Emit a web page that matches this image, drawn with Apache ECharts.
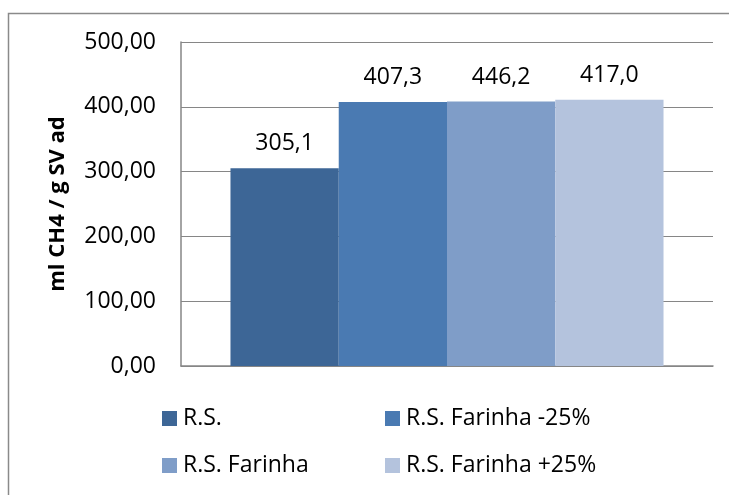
<!DOCTYPE html>
<html>
<head>
<meta charset="utf-8">
<script src="https://cdn.jsdelivr.net/npm/echarts@6/dist/echarts.min.js"></script>
<style>
  html, body { margin: 0; padding: 0; background: #fff; }
  #main { width: 729px; height: 495px; }
</style>
</head>
<body>
<div id="main"></div>
<script>
// dados
var seriesNames = ['R.S.', 'R.S. Farinha -25%', 'R.S. Farinha', 'R.S. Farinha +25%'];
var barValues = [305.1, 407.3, 408, 411];
var barLabels = ['305,1', '407,3', '446,2', '417,0'];
var barColors = ['#3d6696', '#4a7ab2', '#7f9dc8', '#b4c3dd'];
var yTicks = ['0,00', '100,00', '200,00', '300,00', '400,00', '500,00'];
var yName = 'ml CH4 / g SV ad';

var font = '"Open Sans", sans-serif';

;(function() {
  var myChart = echarts.init(document.getElementById('main'));

  var series = seriesNames.map(function(name, i) {
    return {
      name: name,
      type: 'bar',
      barGap: 0,
      barCategoryGap: '18.6%',
      itemStyle: { color: barColors[i] },
      label: {
        show: true,
        position: 'top',
        distance: 13,
        color: '#000',
        fontFamily: font,
        fontSize: 23,
        formatter: function() { return barLabels[i]; }
      },
      data: [barValues[i]]
    };
  });

  // legenda em duas colunas
  var legendPos = [[162, 407], [385, 407], [162, 454], [385, 454]];
  var legends = seriesNames.map(function(name, i) {
    return {
      data: [name],
      left: legendPos[i][0],
      top: legendPos[i][1],
      itemWidth: 15,
      itemHeight: 15,
      icon: 'rect',
      selectedMode: false,
      padding: 0,
      textStyle: { fontFamily: font, fontSize: 23, color: '#000', padding: [0, 0, 0, 1] }
    };
  });

  var option = {
    animation: false,
    backgroundColor: '#fff',
    // moldura do gráfico (só lados esquerdo e superior ficam visíveis)
    graphic: [{
      type: 'polyline',
      shape: { points: [[8.5, 900], [8.5, 13.5], [1200, 13.5]] },
      style: { fill: null, stroke: '#8a8a8a', lineWidth: 1.5 },
      silent: true
    }],
    legend: legends,
    grid: { left: 181, right: 16, top: 42, bottom: 129 },
    xAxis: {
      type: 'category',
      data: [''],
      axisLine: { lineStyle: { color: '#868686', width: 1.5 } },
      axisTick: { show: false },
      axisLabel: { show: false }
    },
    yAxis: {
      type: 'value',
      min: 0,
      max: 500,
      interval: 100,
      name: yName,
      nameLocation: 'middle',
      nameGap: 112,
      nameTextStyle: { fontFamily: font, fontSize: 22, fontWeight: 'bold', color: '#000' },
      axisLine: { show: true, lineStyle: { color: '#868686', width: 1.5 } },
      axisTick: { show: false },
      axisLabel: {
        margin: 25,
        fontFamily: font,
        fontSize: 23,
        color: '#000',
        formatter: function(v) { return yTicks[Math.round(v / 100)]; }
      },
      splitLine: { lineStyle: { color: '#868686', width: 1 } }
    },
    series: series
  };

  myChart.setOption(option);
})();
</script>
</body>
</html>
